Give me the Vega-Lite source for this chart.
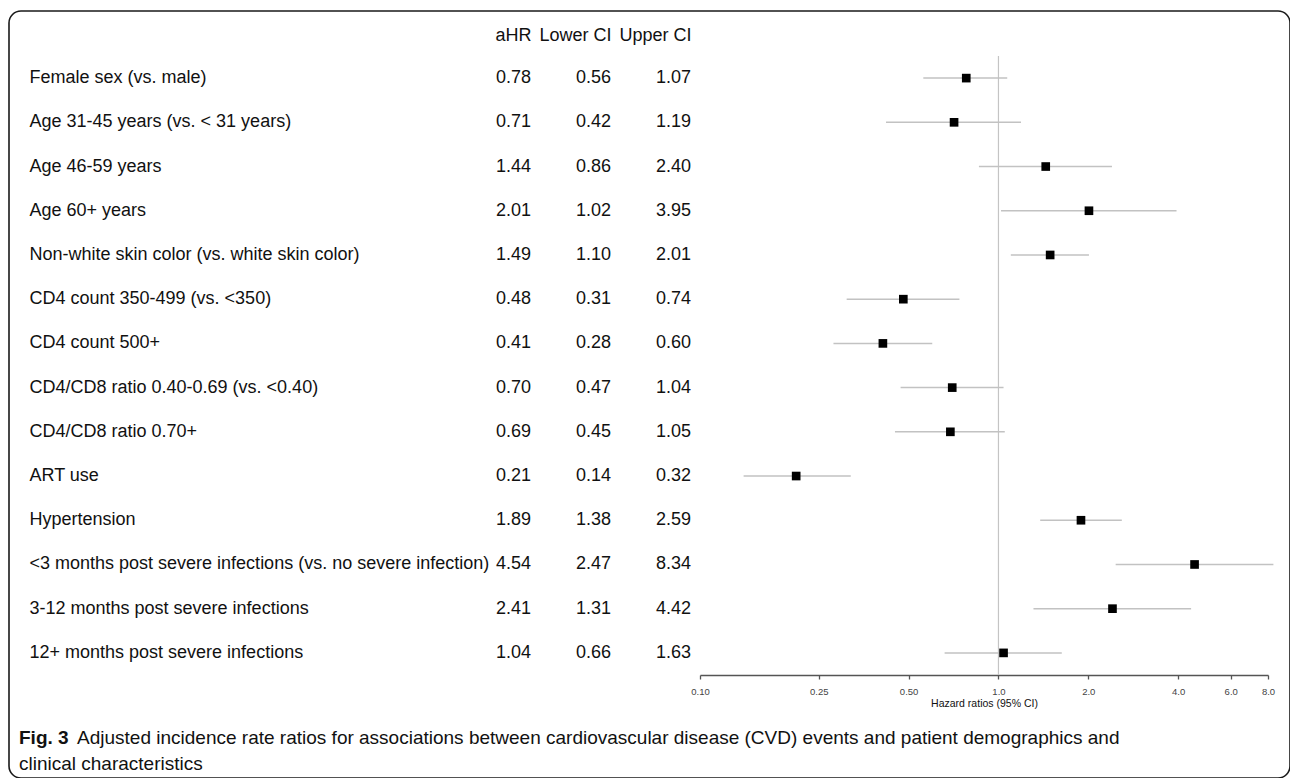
{
  "$schema": "https://vega.github.io/schema/vega-lite/v6.json",
  "width": 1281,
  "height": 767,
  "padding": {"left": 9, "top": 11, "right": 0, "bottom": 0},
  "background": "white",
  "config": {
    "view": {"stroke": "#1a1a1a", "strokeWidth": 1.6, "cornerRadius": 12, "fill": "white"},
    "font": "Liberation Sans"
  },
  "title": {
    "text": "Fig. 3",
    "subtitle": [
      "\u200b\u00a0\u00a0\u00a0\u00a0\u00a0\u00a0\u00a0\u00a0\u00a0\u00a0\u00a0Adjusted incidence rate ratios for associations between cardiovascular disease (CVD) events and patient demographics and",
      "clinical characteristics"
    ],
    "orient": "bottom",
    "anchor": "start",
    "frame": "group",
    "offset": -49,
    "dx": 10,
    "font": "Liberation Sans",
    "fontSize": 19,
    "fontWeight": "bold",
    "color": "#111",
    "subtitleFont": "Liberation Sans",
    "subtitleFontSize": 19,
    "subtitleFontWeight": "normal",
    "subtitleColor": "#111",
    "subtitlePadding": -19,
    "subtitleLineHeight": 26
  },
  "data": {
    "values": [
      {"label": "Female sex (vs. male)", "aHR": 0.78, "Lower CI": 0.56, "Upper CI": 1.07},
      {"label": "Age 31-45 years (vs. < 31 years)", "aHR": 0.71, "Lower CI": 0.42, "Upper CI": 1.19},
      {"label": "Age 46-59 years", "aHR": 1.44, "Lower CI": 0.86, "Upper CI": 2.40},
      {"label": "Age 60+ years", "aHR": 2.01, "Lower CI": 1.02, "Upper CI": 3.95},
      {"label": "Non-white skin color (vs. white skin color)", "aHR": 1.49, "Lower CI": 1.10, "Upper CI": 2.01},
      {"label": "CD4 count 350-499 (vs. <350)", "aHR": 0.48, "Lower CI": 0.31, "Upper CI": 0.74},
      {"label": "CD4 count 500+", "aHR": 0.41, "Lower CI": 0.28, "Upper CI": 0.60},
      {"label": "CD4/CD8 ratio 0.40-0.69 (vs. <0.40)", "aHR": 0.70, "Lower CI": 0.47, "Upper CI": 1.04},
      {"label": "CD4/CD8 ratio 0.70+", "aHR": 0.69, "Lower CI": 0.45, "Upper CI": 1.05},
      {"label": "ART use", "aHR": 0.21, "Lower CI": 0.14, "Upper CI": 0.32},
      {"label": "Hypertension", "aHR": 1.89, "Lower CI": 1.38, "Upper CI": 2.59},
      {"label": "<3 months post severe infections (vs. no severe infection)", "aHR": 4.54, "Lower CI": 2.47, "Upper CI": 8.34},
      {"label": "3-12 months post severe infections", "aHR": 2.41, "Lower CI": 1.31, "Upper CI": 4.42},
      {"label": "12+ months post severe infections", "aHR": 1.04, "Lower CI": 0.66, "Upper CI": 1.63}
    ]
  },
  "encoding": {
    "y": {
      "field": "label",
      "type": "nominal",
      "scale": {
        "domain": [
          "Female sex (vs. male)",
          "Age 31-45 years (vs. < 31 years)",
          "Age 46-59 years",
          "Age 60+ years",
          "Non-white skin color (vs. white skin color)",
          "CD4 count 350-499 (vs. <350)",
          "CD4 count 500+",
          "CD4/CD8 ratio 0.40-0.69 (vs. <0.40)",
          "CD4/CD8 ratio 0.70+",
          "ART use",
          "Hypertension",
          "<3 months post severe infections (vs. no severe infection)",
          "3-12 months post severe infections",
          "12+ months post severe infections"
        ],
        "range": [45, 664]
      },
      "axis": {
        "orient": "left",
        "offset": -20,
        "title": null,
        "domain": false,
        "ticks": false,
        "tickSize": 0,
        "grid": false,
        "labelAlign": "left",
        "labelBaseline": "middle",
        "labelPadding": 0,
        "labelFontSize": 18,
        "labelFont": "Liberation Sans",
        "labelColor": "#111",
        "labelLimit": 0
      }
    }
  },
  "layer": [
    {
      "transform": [{"fold": ["aHR", "Lower CI", "Upper CI"]}],
      "mark": {"type": "text", "align": "right", "baseline": "middle", "fontSize": 18, "font": "Liberation Sans", "color": "#111"},
      "encoding": {
        "x": {
          "field": "key",
          "type": "nominal",
          "scale": {"domain": ["aHR", "Lower CI", "Upper CI"], "range": [522, 682], "padding": 0},
          "axis": {
            "orient": "top",
            "offset": -24,
            "title": null,
            "domain": false,
            "ticks": false,
            "tickSize": 0,
            "grid": false,
            "labelAngle": 0,
            "labelAlign": "right",
            "labelBaseline": "middle",
            "labelPadding": 0,
            "labelFontSize": 18,
            "labelFont": "Liberation Sans",
            "labelColor": "#111"
          }
        },
        "text": {"field": "value", "type": "quantitative", "format": ".2f"}
      }
    },
    {
      "layer": [
        {
          "transform": [{"filter": "datum.label === 'Female sex (vs. male)'"}],
          "mark": {"type": "rule", "color": "#c4c4c4", "strokeWidth": 1.2, "yOffset": -22, "y2Offset": 22},
          "encoding": {
            "x": {"datum": 1, "type": "quantitative"},
            "y": {"datum": "Female sex (vs. male)", "type": "nominal"},
            "y2": {"datum": "12+ months post severe infections"}
          }
        },
        {
          "mark": {"type": "rule", "color": "#c2c2c2", "strokeWidth": 1.5},
          "encoding": {
            "x": {
              "field": "Lower CI",
              "type": "quantitative",
              "scale": {"type": "log", "domain": [0.1, 8], "range": [691, 1259], "nice": false},
              "axis": {
                "orient": "bottom",
                "offset": -103,
                "values": [0.1, 0.25, 0.5, 1, 2, 4, 6, 8],
                "labelExpr": "datum.value < 1 ? format(datum.value, '.2f') : format(datum.value, '.1f')",
                "grid": false,
                "domainColor": "#555",
                "domainWidth": 1.6,
                "tickColor": "#555",
                "tickWidth": 1.3,
                "tickSize": 4,
                "labelFontSize": 9.5,
                "labelFont": "Liberation Sans",
                "labelColor": "#444",
                "labelPadding": 7,
                "labelOverlap": false,
                "labelFlush": false,
                "title": "Hazard ratios (95% CI)",
                "titleFont": "Liberation Sans",
                "titleFontSize": 10.5,
                "titleFontWeight": "normal",
                "titleColor": "#111",
                "titlePadding": 3
              }
            },
            "x2": {"field": "Upper CI"}
          }
        },
        {
          "mark": {"type": "square", "color": "black", "size": 75, "opacity": 1},
          "encoding": {
            "x": {"field": "aHR", "type": "quantitative"}
          }
        }
      ]
    }
  ],
  "resolve": {"scale": {"x": "independent"}, "axis": {"x": "independent"}}
}
